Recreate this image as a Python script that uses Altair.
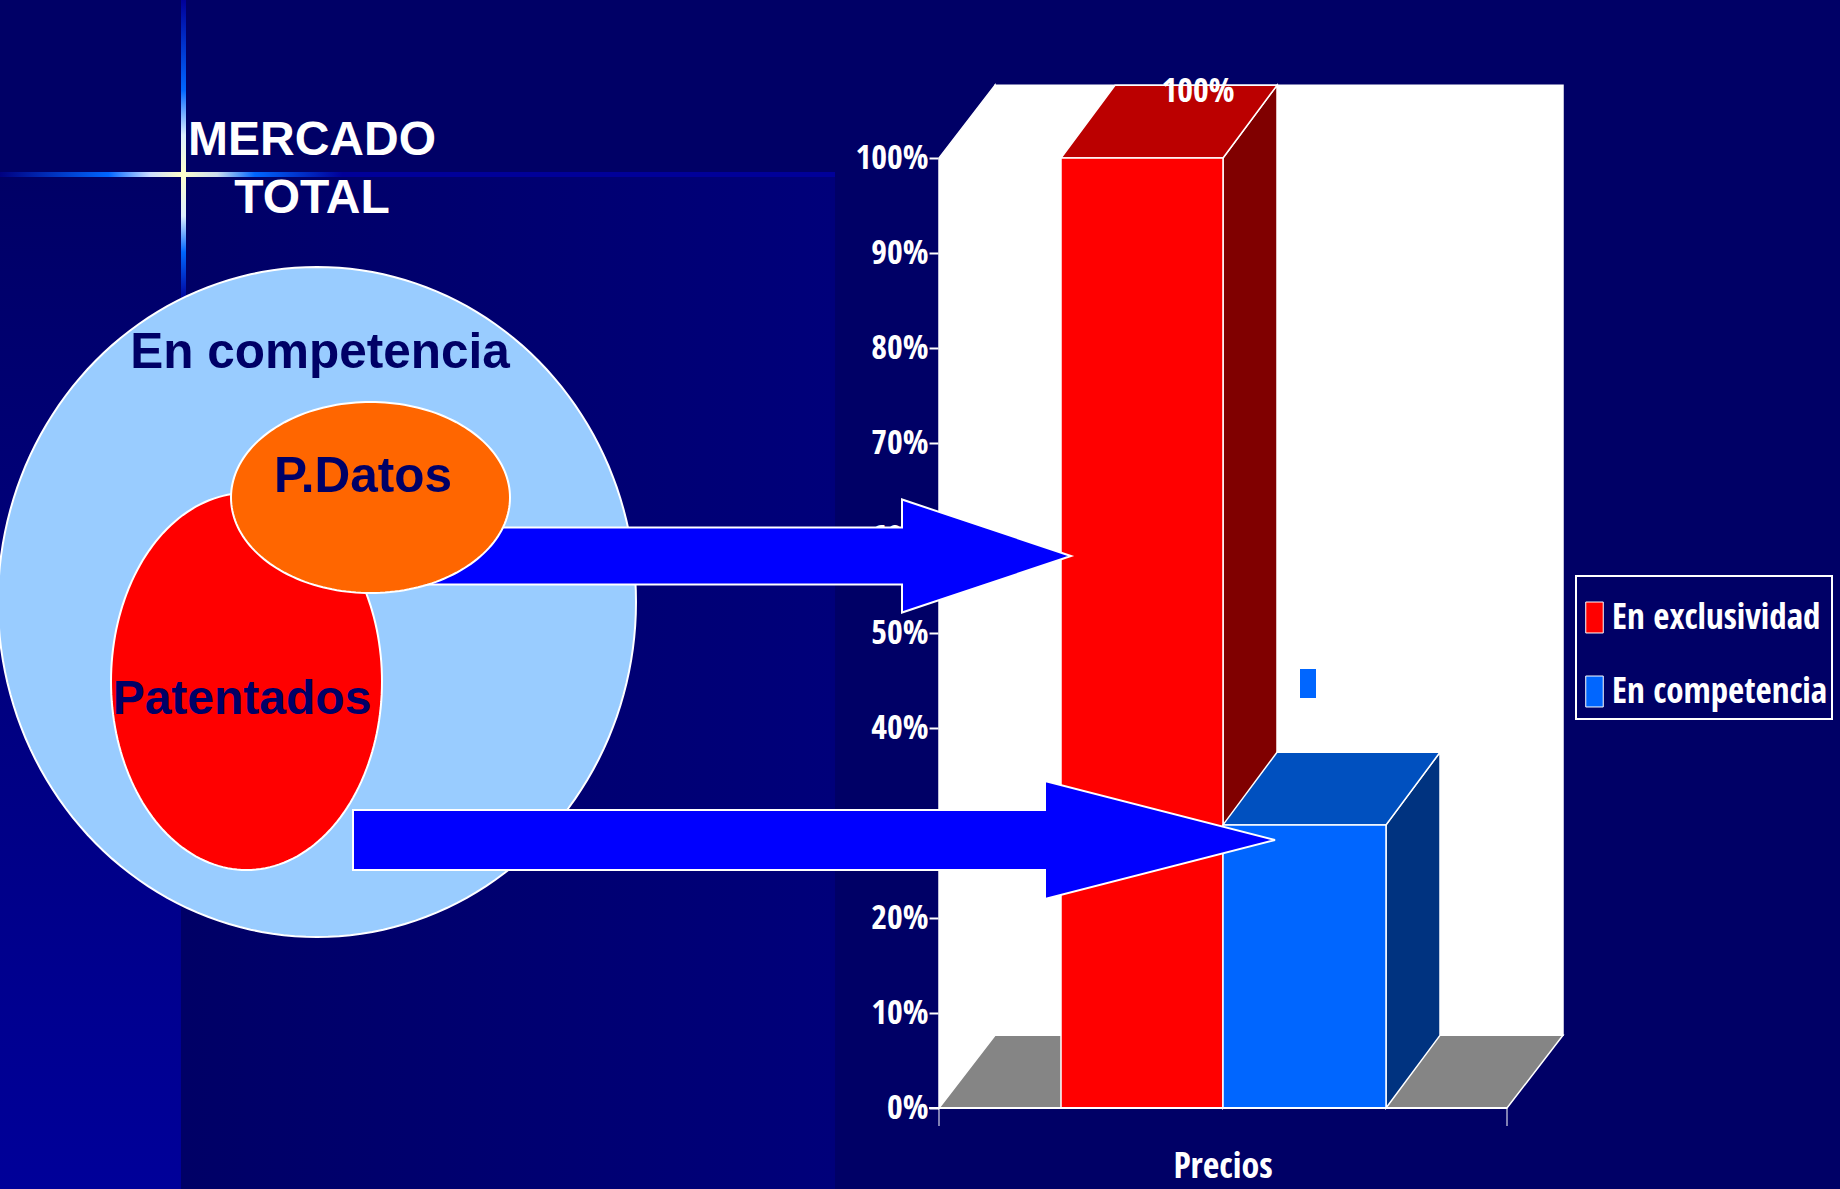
import math
import altair as alt
import pandas as pd

SLIDE_W, SLIDE_H = 1840, 1189
NAVY = "#000066"
WHITE = "#ffffff"
NARROW = "Open Sans Condensed"
WIDE = "Liberation Sans"

# Chart values
series = ["En exclusividad", "En competencia"]
shares = [100, 29.8]
front_colors = ["#ff0000", "#0066ff"]
top_colors = ["#bb0000", "#0050bf"]
side_colors = ["#800000", "#003380"]
pct_ticks = list(range(0, 101, 10))
category = "Precios"

# Horizontal layout of the 3D chart, in slide units
wall_left, wall_right = 939, 1507
bar_edges = [1061, 1223, 1386]
depth_x = 56
depth_pct = 7.65  # depth of the box expressed on the percent axis

# Diagram labels and shapes: (centre x, centre y, radius x, radius y, fill)
ellipses_back = [(317, 602, 319, 335, "#99ccff"), (246.5, 681.5, 135.5, 188.5, "#ff0000")]
ellipse_front = (370.5, 497.5, 139.5, 95.5, "#ff6600")
# Arrow: shaft start, head base, tip x, tip y, shaft half height, head half height
arrows = [(400, 902, 1071, 556, 28.5, 56.5), (353, 1045, 1275, 840, 30, 59)]

x_slide = alt.X("x:Q", axis=None, scale=alt.Scale(domain=[0, SLIDE_W], range=[0, SLIDE_W]))
y_slide = alt.Y("y:Q", axis=None, scale=alt.Scale(domain=[0, SLIDE_H], range=[0, SLIDE_H]))
x2_slide = alt.X2("x2:Q")
y2_slide = alt.Y2("y2:Q")
y_pct_scale = alt.Scale(domain=[0, 100], range=[1108, 158], nice=False, zero=False)


def polygon(points, fill, stroke=None, width=1.5):
    """Closed filled outline in slide units."""
    table = pd.DataFrame([{"x": px, "y": py, "i": i} for i, (px, py) in enumerate(points)])
    kw = {"stroke": stroke, "strokeWidth": width} if stroke else {"strokeWidth": 0}
    return alt.Chart(table).mark_line(interpolate="linear-closed", fill=fill, **kw).encode(
        x=x_slide, y=y_slide, order="i:Q"
    )


def ellipse(cx, cy, rx, ry, fill):
    pts = [(cx + rx * math.cos(t * math.pi / 90), cy + ry * math.sin(t * math.pi / 90)) for t in range(180)]
    return polygon(pts, fill, WHITE, 2)


def arrow(x0, xb, xt, yt, hs, hh):
    return polygon(
        [(x0, yt - hs), (xb, yt - hs), (xb, yt - hh), (xt, yt), (xb, yt + hh), (xb, yt + hs), (x0, yt + hs)],
        "#0000ff", WHITE, 2,
    )


def pct_polygon(points, fill, stroke=WHITE, width=1.5):
    """Closed filled outline: x in slide units, y on the percent scale."""
    table = pd.DataFrame([{"x": px, "pct": v, "i": i} for i, (px, v) in enumerate(points)])
    return alt.Chart(table).mark_line(interpolate="linear-closed", fill=fill, stroke=stroke, strokeWidth=width).encode(
        x=x_slide, y=alt.Y("pct:Q", scale=y_pct_scale, axis=None), order="i:Q"
    )


def slide_rect(x, y, x2, y2, fill, **kw):
    table = pd.DataFrame([{"x": x, "y": y, "x2": x2, "y2": y2}])
    style = {"strokeWidth": 0, **kw}
    return alt.Chart(table).mark_rect(fill=fill, **style).encode(x=x_slide, x2=x2_slide, y=y_slide, y2=y2_slide)


def ramp(stops, horizontal):
    return alt.Gradient(
        gradient="linear",
        stops=[alt.GradientStop(offset=o, color=c) for o, c in stops],
        x1=0, y1=0, x2=1 if horizontal else 0, y2=0 if horizontal else 1,
    )


def text_at(content, x, y, size, color, font=WIDE, weight="bold", **kw):
    table = pd.DataFrame([{"x": x, "y": y, "label": content}])
    return alt.Chart(table).mark_text(
        font=font, fontSize=size, fontWeight=weight, color=color, align="center", baseline="alphabetic", **kw
    ).encode(x=x_slide, y=y_slide, text="label:N")


# Slide backdrop: darker band on the left, faint panel and the star-shaped glow lines
backdrop = [
    slide_rect(181, 174, 835, SLIDE_H, ramp([(0, "#000066"), (1, "#00007a")], True)),
    slide_rect(0, 174, 181, SLIDE_H, ramp([(0, "#000066"), (1, "#000099")], False)),
    slide_rect(0, 172, 835, 177, ramp(
        [(0, "#000080"), (0.13, "#0066ff"), (0.18, "#ccddff"), (0.217, "#ffffcc"), (0.26, "#ccddee"),
         (0.305, "#0066ff"), (0.41, "#000099"), (1, "#000099")], True)),
    slide_rect(181, 0, 186, 300, ramp(
        [(0, "#000099"), (0.3, "#0066ff"), (0.45, "#ddeeff"), (0.58, "#ffffcc"), (0.72, "#ddeeff"),
         (0.84, "#0066ff"), (1, "#000099")], False)),
]

# 3D box: walls and floor
shell = [
    pct_polygon([(wall_left, 0), (wall_left + depth_x, depth_pct), (wall_left + depth_x, 100 + depth_pct), (wall_left, 100)], WHITE, stroke=WHITE),
    pct_polygon([(wall_left + depth_x, depth_pct), (wall_right + depth_x, depth_pct), (wall_right + depth_x, 100 + depth_pct), (wall_left + depth_x, 100 + depth_pct)], WHITE, stroke=WHITE),
    pct_polygon([(wall_left, 0), (wall_right, 0), (wall_right + depth_x, depth_pct), (wall_left + depth_x, depth_pct)], "#858585"),
]

# Bars: side and top faces first, legend-bearing fronts above them
faces = []
for k, (value, top, side) in enumerate(zip(shares, top_colors, side_colors)):
    left, right = bar_edges[k], bar_edges[k + 1]
    faces.append(pct_polygon([(right, 0), (right + depth_x - 2, depth_pct), (right + depth_x - 2, value + depth_pct), (right, value)], side))
    faces.append(pct_polygon([(left, value), (right, value), (right + depth_x - 2, value + depth_pct), (left + depth_x - 2, value + depth_pct)], top))

bars_table = pd.DataFrame(
    {"serie": series, "share": shares, "x": bar_edges[:2], "x2": bar_edges[1:], "base": [0, 0]}
)
fronts = alt.Chart(bars_table).mark_rect(stroke=WHITE, strokeWidth=1.5).encode(
    x=x_slide,
    x2=x2_slide,
    y=alt.Y(
        "share:Q",
        scale=y_pct_scale,
        axis=alt.Axis(
            values=pct_ticks,
            labelExpr="datum.value + '%'",
            offset=-938,
            grid=False,
            domain=False,
            tickSize=9,
            tickWidth=2,
            tickColor=WHITE,
            labelColor=WHITE,
            labelFont=NARROW,
            labelFontWeight="bold",
            labelFontSize=34,
            labelPadding=1,
            title=None,
        ),
    ),
    y2="base:Q",
    color=alt.Color(
        "serie:N",
        scale=alt.Scale(domain=series, range=front_colors),
        legend=alt.Legend(
            orient="none",
            legendX=1577,
            legendY=600,
            title=None,
            padding=0,
            symbolType="M-1,-1.77L1,-1.77L1,1.77L-1,1.77Z",
            symbolSize=306,
            symbolStrokeColor=WHITE,
            symbolStrokeWidth=1,
            symbolOpacity=1,
            labelColor=WHITE,
            labelFont=NARROW,
            labelFontWeight="bold",
            labelFontSize=35,
            labelOffset=0,
            labelLimit=400,
            rowPadding=38,
        ),
    ),
)

value_label = (
    alt.Chart(bars_table[bars_table.share == 100])
    .mark_text(font=NARROW, fontSize=34, fontWeight="bold", color=WHITE, dy=-56, baseline="alphabetic")
    .encode(x=alt.value(1198), y=alt.Y("share:Q", scale=y_pct_scale, axis=None), text=alt.Text("label:N"))
    .transform_calculate(label="datum.share + '%'")
)

baseline_rules = [
    slide_rect(929, 1107, wall_right, 1109, WHITE),
    slide_rect(938.5, 1108, 939.5, 1126, WHITE),
    slide_rect(1506.5, 1108, 1507.5, 1126, WHITE),
]

chart = alt.layer(
    *backdrop,
    *shell,
    *faces,
    fronts,
    *baseline_rules,
    slide_rect(1300, 669, 1316, 698, "#0066ff"),
    slide_rect(1576, 576, 1832, 719, NAVY, stroke=WHITE, strokeWidth=2),
    text_at(category, 1223, 1178, 36, WHITE, font=NARROW),
    value_label,
    ellipse(*ellipses_back[0]),
    ellipse(*ellipses_back[1]),
    arrow(*arrows[0]),
    arrow(*arrows[1]),
    ellipse(*ellipse_front),
    text_at("MERCADO", 312, 155, 48, WHITE),
    text_at("TOTAL", 312, 213, 48, WHITE),
    text_at("En competencia", 320, 368, 49.5, NAVY),
    text_at("P.Datos", 363, 492, 49.5, NAVY),
    text_at("Patentados", 242, 714, 48, NAVY),
).resolve_scale(y="independent").properties(
    width=SLIDE_W,
    height=SLIDE_H,
    background=NAVY,
    padding=0,
    autosize=alt.AutoSizeParams(type="none", contains="padding"),
).configure_view(strokeWidth=0)

chart.save("out.html", embed_options={"renderer": "svg", "actions": False})
